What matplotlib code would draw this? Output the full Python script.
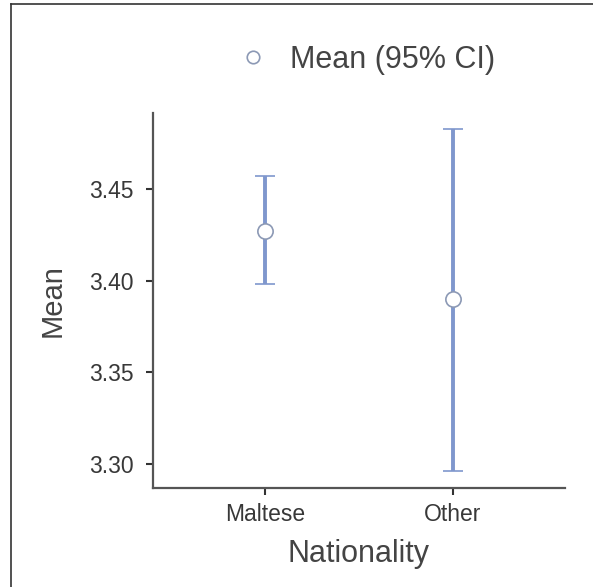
import matplotlib
matplotlib.use("Agg")
import matplotlib.pyplot as plt
from matplotlib.lines import Line2D
import numpy as np

# mean and 95% CI per nationality
groups = ["Maltese", "Other"]
means = [3.427, 3.390]
ci_low = [3.398, 3.296]
ci_high = [3.457, 3.483]
yticks = [3.30, 3.35, 3.40, 3.45]

plt.rcParams['font.family'] = ['Liberation Sans', 'DejaVu Sans']

bar_col = '#7f97cd'
edge_col = '#8c99b5'
txt_col = '#444444'

fig = plt.figure(figsize=(5.93, 5.87), dpi=100)
ax = fig.add_axes([153 / 593, 1 - 488 / 587, 412 / 593, 375 / 587])

x = np.arange(len(groups))
m = np.array(means)
err = [m - np.array(ci_low), np.array(ci_high) - m]
ax.errorbar(x, m, yerr=err, fmt='o', color=bar_col, ecolor=bar_col,
            elinewidth=2.8, capsize=7.5, capthick=3.2,
            markersize=11, markerfacecolor='white', markeredgecolor=edge_col,
            markeredgewidth=1.2, zorder=3)

ax.set_xlim(-0.6, 1.6)
ax.set_ylim(3.287, 3.4915)
ax.set_xticks(x)
ax.set_xticklabels(groups)
ax.set_yticks(yticks)
ax.set_yticklabels([f"{v:.2f}" for v in yticks])

for s in ['top', 'right']:
    ax.spines[s].set_visible(False)
for s in ['left', 'bottom']:
    ax.spines[s].set_color('#555555')
    ax.spines[s].set_linewidth(1.6)
ax.tick_params(length=5, width=1.5, color='#333333', labelsize=16.5,
               labelcolor='#383838')
ax.tick_params(axis='y', pad=9)
ax.tick_params(axis='x', pad=6)

ax.set_xlabel("Nationality", fontsize=22, color=txt_col, labelpad=9)
ax.set_ylabel("Mean", fontsize=21, color=txt_col, labelpad=16)

# legend with marker only
h = Line2D([], [], linestyle='none', marker='o', markersize=9,
           markerfacecolor='white', markeredgecolor=edge_col, markeredgewidth=1.2)
fig.legend([h], ["Mean (95% CI)"], loc='center left',
           bbox_to_anchor=(238 / 593, 1 - 60 / 587), frameon=False,
           fontsize=22, labelcolor=txt_col, handlelength=1.0,
           handletextpad=0.7, borderpad=0, borderaxespad=0)

# outer frame (left and top edges)
fig.add_artist(Line2D([11 / 593, 11 / 593], [0, 1 - 4 / 587], color='#333333', lw=1.2))
fig.add_artist(Line2D([11 / 593, 1], [1 - 4 / 587, 1 - 4 / 587], color='#333333', lw=1.2))

fig.savefig("out.png", dpi=100)
